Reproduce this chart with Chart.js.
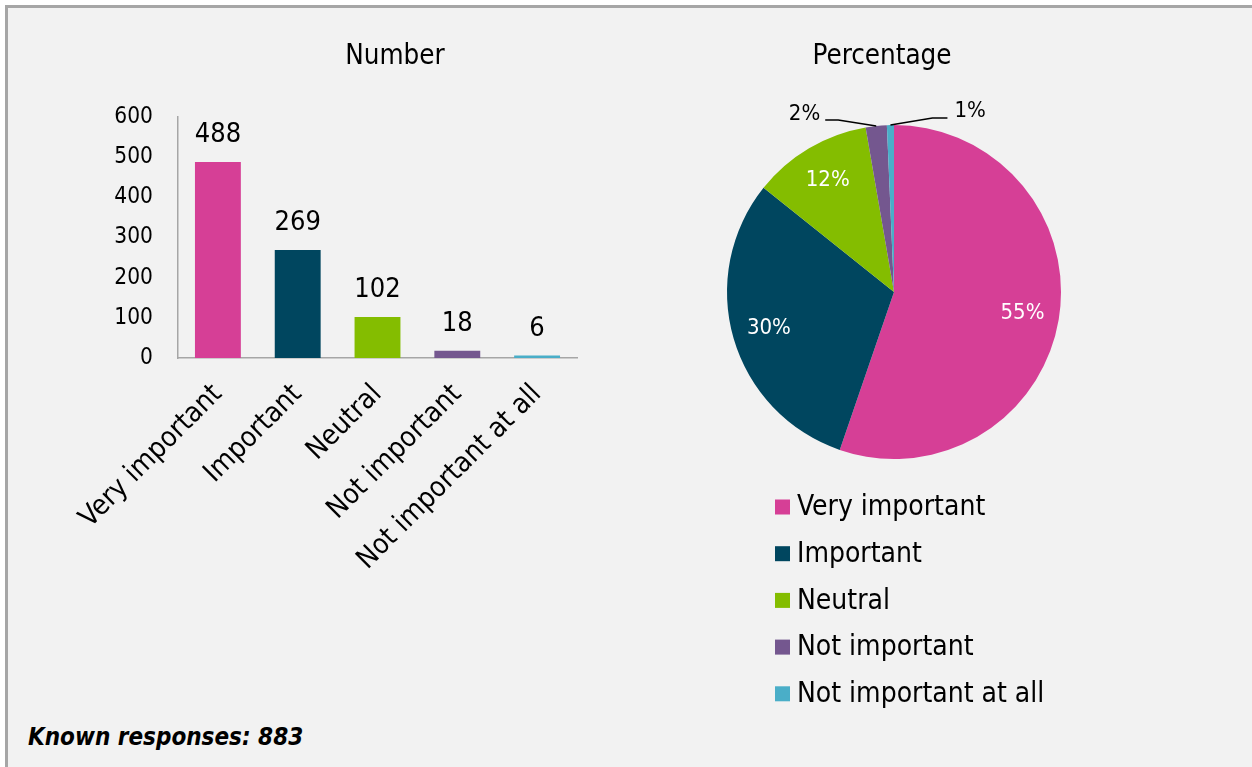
<!DOCTYPE html>
<html>
<head>
<meta charset="utf-8">
<script src="https://cdn.jsdelivr.net/npm/chart.js@4.4.1/dist/chart.umd.min.js"></script>
<style>
  html, body { margin: 0; padding: 0; background: #ffffff; }
  #page { position: relative; width: 1252px; height: 767px; overflow: hidden; background: #ffffff; }
  #frame { position: absolute; left: 5px; top: 5px; width: 1260px; height: 800px;
           border-left: 3px solid #a6a6a6; border-top: 3px solid #a6a6a6; background: #f2f2f2; }
  canvas { position: absolute; top: 0; }
  #barCanvas { left: 0; }
  #pieCanvas { left: 622px; }
  #note { position: absolute; left: 28px; top: 723px; font-family: "DejaVu Sans Condensed", "DejaVu Sans", sans-serif;
          font-size: 24px; font-weight: bold; font-style: italic; color: #000; white-space: nowrap; }
</style>
</head>
<body>
<div id="page">
  <div id="frame"></div>
  <canvas id="barCanvas" width="790" height="700"></canvas>
  <canvas id="pieCanvas" width="520" height="767"></canvas>
  <div id="note">Known responses: 883</div>
</div>
<script>
// Survey answers: how important is it?
const categories = ['Very important', 'Important', 'Neutral', 'Not important', 'Not important at all'];
const responses = [488, 269, 102, 18, 6];
const colours = ['#d63f96', '#00465f', '#84bd00', '#74578f', '#4aaec8'];
const yTicks = [0, 100, 200, 300, 400, 500, 600];

const FONT = '"DejaVu Sans Condensed", "DejaVu Sans", sans-serif';
const total = responses.reduce((a, b) => a + b, 0);
const pct = v => Math.round(v / total * 100) + '%';

// Panel heading drawn at a fixed point of the canvas
const panelTitle = {
  id: 'panelTitle',
  afterDraw(chart, args, opts) {
    const ctx = chart.ctx;
    ctx.save();
    ctx.font = '27.5px ' + FONT;
    ctx.fillStyle = '#000';
    ctx.textAlign = 'center';
    ctx.textBaseline = 'middle';
    ctx.fillText(opts.text, opts.x, opts.y);
    ctx.restore();
  }
};

// Value written above each bar
const barValueLabels = {
  id: 'barValueLabels',
  afterDatasetsDraw(chart) {
    const ctx = chart.ctx;
    const meta = chart.getDatasetMeta(0);
    ctx.save();
    ctx.font = '27px ' + FONT;
    ctx.fillStyle = '#000';
    ctx.textAlign = 'center';
    ctx.textBaseline = 'alphabetic';
    meta.data.forEach((bar, i) => {
      ctx.fillText(String(chart.data.datasets[0].data[i]), bar.x, bar.y - 20);
    });
    ctx.restore();
  }
};

new Chart(document.getElementById('barCanvas'), {
  type: 'bar',
  data: {
    labels: categories,
    datasets: [{
      data: responses,
      backgroundColor: colours,
      borderWidth: 0,
      categoryPercentage: 1,
      barPercentage: 0.575
    }]
  },
  options: {
    responsive: false,
    animation: false,
    devicePixelRatio: 1,
    layout: { padding: { left: 0, right: 213, top: 117, bottom: 0 } },
    plugins: {
      legend: { display: false },
      tooltip: { enabled: false },
      title: { display: false },
      panelTitle: { text: 'Number', x: 395, y: 57 }
    },
    scales: {
      x: {
        grid: { display: false, drawTicks: false },
        border: { display: true, color: '#a6a6a6', width: 1.5 },
        ticks: {
          color: '#000',
          font: { family: FONT, size: 28 },
          minRotation: 45,
          maxRotation: 45,
          autoSkip: false,
          padding: 20
        },
        afterFit(scale) { scale.height = 342; }
      },
      y: {
        min: 0,
        max: 600,
        afterBuildTicks(scale) { scale.ticks = yTicks.map(v => ({ value: v })); },
        grid: { display: false, drawTicks: false },
        border: { display: true, color: '#a6a6a6', width: 1.5 },
        ticks: {
          color: '#000',
          font: { family: FONT, size: 22.5 },
          padding: 25
        },
        afterFit(scale) { scale.width = 178; }
      }
    }
  },
  plugins: [barValueLabels, panelTitle]
});

// Percentage labels: inside for large slices, outside with leader lines for small ones
const outsideLabelOffsets = {
  3: { elbow: [-38, -6], end: [-51, -6], text: [-56, -12], align: 'right' },
  4: { elbow: [42, -7], end: [57, -7], text: [64, -14], align: 'left' }
};
const pieLabels = {
  id: 'pieLabels',
  afterDatasetsDraw(chart) {
    const ctx = chart.ctx;
    const meta = chart.getDatasetMeta(0);
    const data = chart.data.datasets[0].data;
    ctx.save();
    ctx.font = '22px ' + FONT;
    meta.data.forEach((arc, i) => {
      const mid = (arc.startAngle + arc.endAngle) / 2;
      const R = arc.outerRadius;
      const label = pct(data[i]);
      const o = outsideLabelOffsets[i];
      if (!o) {
        ctx.fillStyle = '#ffffff';
        ctx.textAlign = 'center';
        ctx.textBaseline = 'middle';
        ctx.fillText(label, arc.x + Math.cos(mid) * R * 0.78, arc.y + Math.sin(mid) * R * 0.78);
      } else {
        const ex = arc.x + Math.cos(mid) * R;
        const ey = arc.y + Math.sin(mid) * R;
        ctx.strokeStyle = '#000';
        ctx.lineWidth = 1.5;
        ctx.beginPath();
        ctx.moveTo(ex, ey);
        ctx.lineTo(ex + o.elbow[0], ey + o.elbow[1]);
        ctx.lineTo(ex + o.end[0], ey + o.end[1]);
        ctx.stroke();
        ctx.fillStyle = '#000';
        ctx.textAlign = o.align;
        ctx.textBaseline = 'middle';
        ctx.fillText(label, ex + o.text[0], ey + o.text[1]);
      }
    });
    ctx.restore();
  }
};

// Vertical legend under the pie
const pieLegend = {
  id: 'pieLegend',
  afterDraw(chart) {
    const ctx = chart.ctx;
    const ds = chart.data.datasets[0];
    ctx.save();
    ctx.font = '28px ' + FONT;
    ctx.textAlign = 'left';
    ctx.textBaseline = 'middle';
    chart.data.labels.forEach((lab, i) => {
      const cy = 507 + i * 46.7;
      ctx.fillStyle = ds.backgroundColor[i];
      ctx.fillRect(153, cy - 7.5, 15, 15);
      ctx.fillStyle = '#000';
      ctx.fillText(lab, 175, cy + 1);
    });
    ctx.restore();
  }
};

new Chart(document.getElementById('pieCanvas'), {
  type: 'pie',
  data: {
    labels: categories,
    datasets: [{ data: responses, backgroundColor: colours, borderWidth: 0 }]
  },
  options: {
    responsive: false,
    animation: false,
    devicePixelRatio: 1,
    layout: { padding: { left: 105, right: 81, top: 125, bottom: 308 } },
    plugins: {
      legend: { display: false },
      tooltip: { enabled: false },
      title: { display: false },
      panelTitle: { text: 'Percentage', x: 260, y: 57 }
    }
  },
  plugins: [pieLabels, pieLegend, panelTitle]
});
</script>
</body>
</html>
